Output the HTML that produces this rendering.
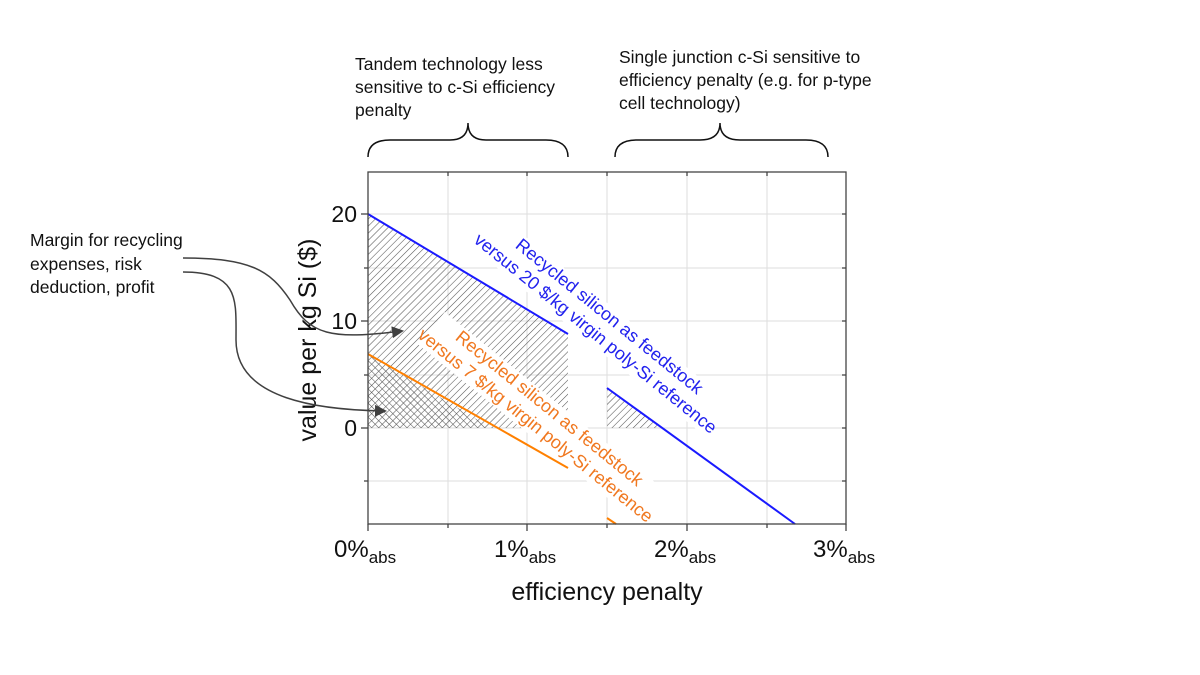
<!DOCTYPE html>
<html><head><meta charset="utf-8"><style>
body{margin:0;background:#fff;}
svg{display:block;font-family:"Liberation Sans",sans-serif;}
</style></head><body>
<svg width="1200" height="675" viewBox="0 0 1200 675" xmlns="http://www.w3.org/2000/svg">
<defs>
<pattern id="h1" patternUnits="userSpaceOnUse" width="5" height="5" patternTransform="rotate(45)">
<line x1="0" y1="0" x2="0" y2="5" stroke="#555" stroke-width="1.1"/></pattern>
<pattern id="h2" patternUnits="userSpaceOnUse" width="5" height="5" patternTransform="rotate(-45)">
<line x1="0" y1="0" x2="0" y2="5" stroke="#555" stroke-width="1.1"/></pattern>
<marker id="ar" markerWidth="12" markerHeight="12" refX="10" refY="6" orient="auto" markerUnits="userSpaceOnUse"><path d="M0,0 L12,6 L0,12 z" fill="#404040"/></marker>
</defs>
<g stroke="#ddd" stroke-width="1">
<line x1="448" y1="172" x2="448" y2="524"/><line x1="527" y1="172" x2="527" y2="524"/><line x1="607" y1="172" x2="607" y2="524"/><line x1="687" y1="172" x2="687" y2="524"/><line x1="767" y1="172" x2="767" y2="524"/>
<line x1="368" y1="214" x2="846" y2="214"/><line x1="368" y1="268" x2="846" y2="268"/><line x1="368" y1="321" x2="846" y2="321"/><line x1="368" y1="375" x2="846" y2="375"/><line x1="368" y1="428" x2="846" y2="428"/><line x1="368" y1="481" x2="846" y2="481"/>
</g>
<polygon points="368,214 568,334 568,428 368,428" fill="url(#h1)"/>
<polygon points="368,354 491,428 368,428" fill="url(#h2)"/>
<polygon points="607,388 661,428 607,428" fill="url(#h1)"/>
<g transform="translate(600,328) rotate(39)" font-size="18" fill="#2222ee" text-anchor="middle">
<rect x="-150" y="-24" width="300" height="42" fill="#fff"/>
</g>
<g transform="translate(540,420) rotate(39)" font-size="18" fill="#f07820" text-anchor="middle">
<rect x="-142" y="-24" width="284" height="42" fill="#fff"/>
</g>
<line x1="368" y1="214" x2="568" y2="334" stroke="#1a1aff" stroke-width="2"/>
<line x1="607" y1="388" x2="795" y2="524" stroke="#1a1aff" stroke-width="2"/>
<line x1="368" y1="354" x2="568" y2="468" stroke="#ff8000" stroke-width="2"/>
<line x1="607" y1="518" x2="616" y2="524" stroke="#ff8000" stroke-width="2"/>
<g transform="translate(600,328) rotate(39)" font-size="18" fill="#2222ee" text-anchor="middle">
<text x="0" y="-9">Recycled silicon as feedstock</text>
<text x="0" y="13">versus 20 $/kg virgin poly-Si reference</text>
</g>
<g transform="translate(540,420) rotate(39)" font-size="18" fill="#f07820" text-anchor="middle">
<text x="0" y="-9">Recycled silicon as feedstock</text>
<text x="0" y="13">versus 7 $/kg virgin poly-Si reference</text>
</g>
<rect x="368" y="172" width="478" height="352" fill="none" stroke="#444" stroke-width="1.3"/>
<g stroke="#444" stroke-width="1.3">
<line x1="368" y1="524" x2="368" y2="531"/><line x1="448" y1="524" x2="448" y2="528"/><line x1="527" y1="524" x2="527" y2="531"/><line x1="607" y1="524" x2="607" y2="528"/><line x1="687" y1="524" x2="687" y2="531"/><line x1="767" y1="524" x2="767" y2="528"/><line x1="846" y1="524" x2="846" y2="531"/>
<line x1="361" y1="214" x2="368" y2="214"/><line x1="364" y1="268" x2="368" y2="268"/><line x1="361" y1="321" x2="368" y2="321"/><line x1="364" y1="375" x2="368" y2="375"/><line x1="361" y1="428" x2="368" y2="428"/><line x1="364" y1="481" x2="368" y2="481"/>
<line x1="846" y1="214" x2="842" y2="214"/><line x1="846" y1="268" x2="842" y2="268"/><line x1="846" y1="321" x2="842" y2="321"/><line x1="846" y1="375" x2="842" y2="375"/><line x1="846" y1="428" x2="842" y2="428"/><line x1="846" y1="481" x2="842" y2="481"/>
<line x1="448" y1="172" x2="448" y2="176"/><line x1="527" y1="172" x2="527" y2="176"/><line x1="607" y1="172" x2="607" y2="176"/><line x1="687" y1="172" x2="687" y2="176"/><line x1="767" y1="172" x2="767" y2="176"/>
</g>
<g font-size="23" fill="#111" text-anchor="end">
<text x="357" y="222">20</text><text x="357" y="329">10</text><text x="357" y="436">0</text>
</g>
<g font-size="24" fill="#111">
<text x="334" y="557">0%<tspan font-size="17" dy="6">abs</tspan></text>
<text x="494" y="557">1%<tspan font-size="17" dy="6">abs</tspan></text>
<text x="654" y="557">2%<tspan font-size="17" dy="6">abs</tspan></text>
<text x="813" y="557">3%<tspan font-size="17" dy="6">abs</tspan></text>
</g>
<text x="607" y="600" font-size="25" fill="#111" text-anchor="middle">efficiency penalty</text>
<text transform="translate(316,340) rotate(-90)" font-size="25" fill="#111" text-anchor="middle">value per kg Si ($)</text>
<g font-size="17.5" fill="#111">
<text x="355" y="70">Tandem technology less</text>
<text x="355" y="93">sensitive to c-Si efficiency</text>
<text x="355" y="116">penalty</text>
<text x="619" y="63">Single junction c-Si sensitive to</text>
<text x="619" y="86">efficiency penalty (e.g. for p-type</text>
<text x="619" y="109">cell technology)</text>
<text x="30" y="246">Margin for recycling</text>
<text x="30" y="270">expenses, risk</text>
<text x="30" y="293">deduction, profit</text>
</g>
<g fill="none" stroke="#111" stroke-width="1.5">
<path d="M368,157 Q368,140 390,140 L450,140 Q468,140 468,123 Q468,140 486,140 L546,140 Q568,140 568,157"/>
<path d="M615,157 Q615,140 637,140 L700,140 Q720,140 720,123 Q720,140 740,140 L806,140 Q828,140 828,157"/>
</g>
<g fill="none" stroke="#404040" stroke-width="1.5">
<path d="M183,258 C250,258 270,270 290,300 C310,335 330,340 402,331" marker-end="url(#ar)"/>
<path d="M183,272 C240,272 236,300 236,340 C236,400 320,410 385,411" marker-end="url(#ar)"/>
</g>
</svg>
</body></html>
